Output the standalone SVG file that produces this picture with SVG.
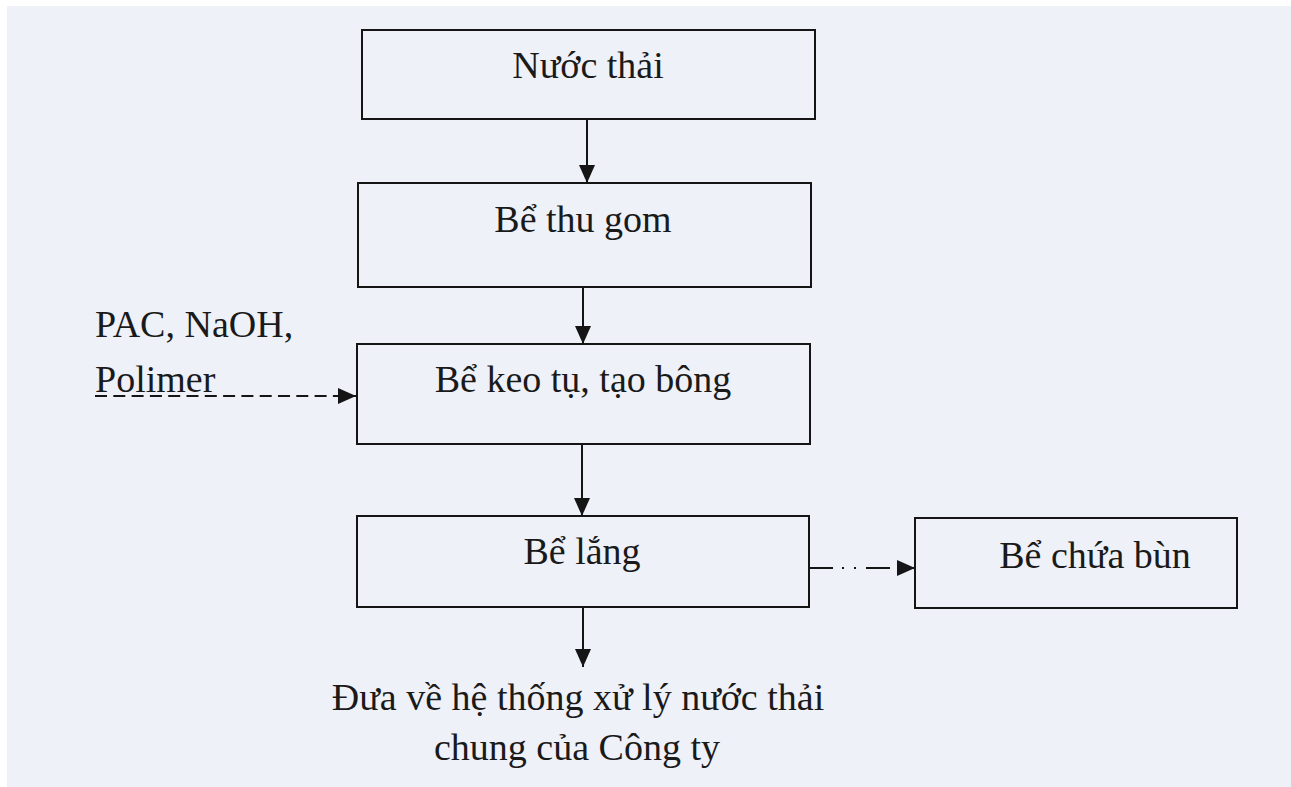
<svg xmlns="http://www.w3.org/2000/svg" width="1291" height="787" viewBox="0 0 1291 787">
  <style>
    .box { fill: none; stroke: #151515; stroke-width: 2; }
    .lbl { font-family: "Liberation Serif", "Times New Roman", serif; font-size: 38px; fill: #1a1a1a; text-anchor: middle; }
    .side { font-family: "Liberation Serif", "Times New Roman", serif; font-size: 38px; fill: #1a1a1a; }
    .flow { fill: none; stroke: #151515; stroke-width: 2; }
  </style>
  <defs>
    <marker id="head" markerUnits="userSpaceOnUse" markerWidth="18" markerHeight="16" refX="18" refY="8" orient="auto">
      <path d="M0,0 L18,8 L0,16 Z" fill="#151515"/>
    </marker>
  </defs>

  <!-- page -->
  <rect x="0" y="0" width="1291" height="787" fill="#ffffff"/>
  <rect x="7" y="6" width="1284" height="781" fill="#eef1f8"/>

  <g id="node-nuoc-thai">
    <rect class="box" x="362" y="30" width="453" height="89"/>
    <text class="lbl" x="588" y="78">Nước thải</text>
  </g>

  <g id="node-be-thu-gom">
    <rect class="box" x="358" y="183" width="453" height="104"/>
    <text class="lbl" x="583" y="232">Bể thu gom</text>
  </g>

  <g id="node-be-keo-tu">
    <rect class="box" x="357" y="344" width="453" height="100"/>
    <text class="lbl" x="583" y="392">Bể keo tụ, tạo bông</text>
  </g>

  <g id="node-be-lang">
    <rect class="box" x="357" y="516" width="452" height="91"/>
    <text class="lbl" x="582" y="564">Bể lắng</text>
  </g>

  <g id="node-be-chua-bun">
    <rect class="box" x="915" y="518" width="322" height="90"/>
    <text class="lbl" x="1095" y="568">Bể chứa bùn</text>
  </g>

  <g id="node-chemicals">
    <text class="side" x="95" y="337">PAC, NaOH,</text>
    <text class="side" x="95" y="392">Polimer</text>
  </g>

  <g id="node-outlet">
    <text class="lbl" x="578" y="710">Đưa về hệ thống xử lý nước thải</text>
    <text class="lbl" x="577" y="760">chung của Công ty</text>
  </g>

  <g id="connectors">
    <line class="flow" x1="587" y1="119" x2="587" y2="183" marker-end="url(#head)"/>
    <line class="flow" x1="583" y1="287" x2="583" y2="344" marker-end="url(#head)"/>
    <line class="flow" x1="582" y1="444" x2="582" y2="516" marker-end="url(#head)"/>
    <line class="flow" x1="583" y1="607" x2="583" y2="667" marker-end="url(#head)"/>
    <!-- dosing line, dashed -->
    <line class="flow" x1="95" y1="396" x2="337" y2="396" stroke-dasharray="12 6.3"/>
    <line class="flow" x1="337" y1="396" x2="356" y2="396" stroke-width="0" marker-end="url(#head)"/>
    <!-- sludge line, dash-dot-dot -->
    <line class="flow" x1="808" y1="568" x2="897" y2="568" stroke-dasharray="25 9 2 10 2 10 24 10"/>
    <line class="flow" x1="897" y1="568" x2="915" y2="568" stroke-width="0" marker-end="url(#head)"/>
  </g>
</svg>
